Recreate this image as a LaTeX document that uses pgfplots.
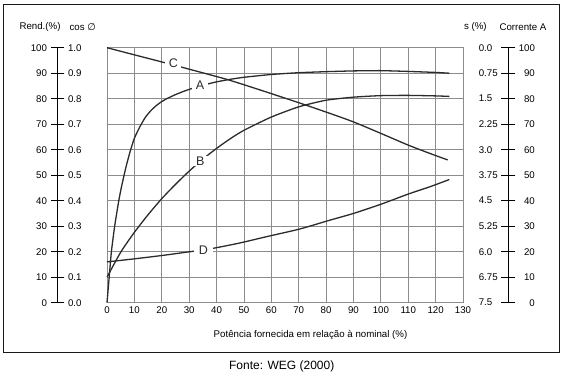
\documentclass[border=0pt]{standalone}
\usepackage{pgfplots}
\pgfplotsset{compat=1.18}
\usepackage{fontspec}
\setmainfont{Liberation Sans}
\newfontfamily\dejavu{DejaVu Sans}
\definecolor{gridc}{HTML}{8C8C8C}
\definecolor{curvec}{HTML}{2B2B2B}
\newcommand{\tl}{\fontsize{9.7}{11}\selectfont}
\pgfplotsset{
  scalebase/.style={
    scale only axis, width=1pt, height=255pt,
    xmin=0, xmax=1, ymin=0, ymax=100,
    hide x axis,
    ytick={0,10,...,100},
    tick align=center, major tick length=14pt,
    tick style={black, line width=0.9pt},
    y axis line style={black, line width=0.9pt},
    /pgf/number format/assume math mode=true,
    yticklabel style={font=\tl},
  }
}
\begin{document}
\begin{tikzpicture}[x=1pt,y=1pt]
\path[use as bounding box] (0,0) rectangle (565,378);
\draw[line width=0.9pt, black!90] (3,26) rectangle (559,374);

\begin{axis}[
  at={(107pt,75.3pt)}, anchor=south west, scale only axis,
  width=356pt, height=255pt,
  xmin=0, xmax=130, ymin=0, ymax=100,
  xtick={0,10,...,130}, ytick={0,10,...,100},
  yticklabels={},
  grid=major, grid style={gridc, line width=0.8pt},
  axis line style={gridc, line width=0.8pt},
  major tick length=0pt,
  tick label style={font=\tl},
  /pgf/number format/assume math mode=true,
  clip=false,
]
% A: rendimento
\addplot[curvec, line width=1.3pt, smooth, tension=0.3] coordinates {
 (0,0) (0.8,10) (1.6,20) (2.8,30) (4.3,40) (5.5,46.5) (7,53.5) (8.5,59.5) (10,64.5)
 (12,69) (14,72.7) (16,75.3) (18,77.3) (20,78.9) (22,80.1) (25,81.6) (28,82.9) (31,84)
 (35,85.3) (40,86.6) (45,87.6) (50,88.4) (60,89.5) (70,90.2) (80,90.6) (90,90.9)
 (100,91) (110,90.7) (120,90.3) (125,90)};
% B: cos phi
\addplot[curvec, line width=1.3pt, smooth, tension=0.4] coordinates {
 (0,10) (5,19.8) (10,27.6) (15,34.5) (20,40.8) (25,46.4) (30,51.6) (35,56.3)
 (40,60.5) (45,64.3) (50,67.6) (60,72.8) (70,76.8) (80,79.4) (90,80.6) (100,81.2)
 (110,81.3) (120,81.1) (125,80.9)};
% C: escorregamento
\addplot[curvec, line width=1.3pt, smooth, tension=0.4] coordinates {
 (0,100) (10,97.2) (20.8,94.2) (32,91) (44.3,87.4) (58,82.7) (72.3,77.6) (81.5,74.2)
 (90,70.9) (100,66.4) (110,61.8) (118,58.5) (124.4,56)};
% D: corrente
\addplot[curvec, line width=1.3pt, smooth, tension=0.4] coordinates {
 (0,16) (10,17.2) (20,18.5) (30.3,20) (37.6,21.1) (48,23.3) (58.3,25.9) (70.4,28.9)
 (81.5,32.4) (90,35) (100,38.6) (110,42.6) (118,45.5) (125,48.3)};
\tikzset{lab/.style={fill=white, inner xsep=3.5pt, inner ysep=1pt, font=\fontsize{12.5}{14}\selectfont, text=curvec}}
\node[lab] at (axis cs:24.2,93.9) {C};
\node[lab] at (axis cs:34.0,85.2) {A};
\node[lab] at (axis cs:34.1,55.6) {B};
\node[lab, inner xsep=5pt] at (axis cs:35.2,20.6) {D};
\end{axis}

% left scale: Rend. (%)
\begin{axis}[scalebase, at={(57.5pt,75.3pt)}, anchor=south west,
  axis y line*=left]
\addplot[draw=none] coordinates {(0,0)};
\end{axis}
% left scale: cos phi
\begin{axis}[scalebase, at={(56.5pt,75.3pt)}, anchor=south west,
  axis y line*=right,
  yticklabels={0.0,0.1,0.2,0.3,0.4,0.5,0.6,0.7,0.8,0.9,1.0}]
\addplot[draw=none] coordinates {(0,0)};
\end{axis}
% right scale: s (%)
\begin{axis}[scalebase, at={(508.3pt,75.3pt)}, anchor=south west,
  axis y line*=left,
  yticklabels={7.5,6.75,6.0,5.25,4.5,3.75,3.0,2.25,1.5,0.75,0.0},
  yticklabel style={text width=19pt, align=left}]
\addplot[draw=none] coordinates {(0,0)};
\end{axis}
% right scale: Corrente A
\begin{axis}[scalebase, at={(507.3pt,75.3pt)}, anchor=south west,
  axis y line*=right,
  yticklabel style={text width=16pt, align=right}]
\addplot[draw=none] coordinates {(0,0)};
\end{axis}

\node[font=\tl, anchor=west] at (16,351) {Rend.(\%)};
\node[font=\tl, anchor=west] at (66,351) {cos {\dejavu ∅}};
\node[font=\tl, anchor=west] at (460.5,351) {s (\%)};
\node[font=\tl, anchor=west] at (496,351) {Corrente A};
\node[font=\tl] at (310.5,43) {Potência fornecida em relação à nominal (\%)};
\node[font=\fontsize{12}{14}\selectfont] at (281.7,11.5) {Fonte: WEG (2000)};
\end{tikzpicture}
\end{document}
